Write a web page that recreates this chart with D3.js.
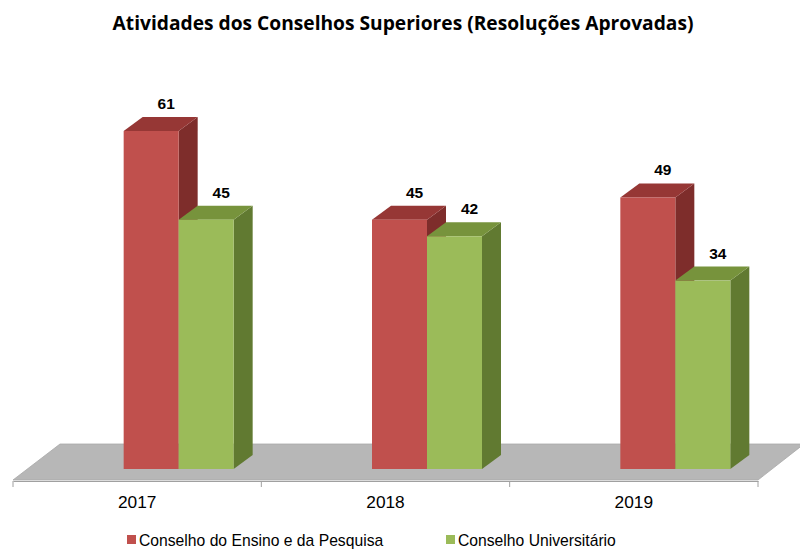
<!DOCTYPE html>
<html>
<head>
<meta charset="utf-8">
<script src="https://cdn.jsdelivr.net/npm/d3@7"></script>
<style>
  html, body { margin: 0; padding: 0; background: #fff; }
  svg { display: block; }
</style>
</head>
<body>
<svg id="chart" width="800" height="549"></svg>
<script>
// Resoluções aprovadas por ano e por conselho
const years = ["2017", "2018", "2019"];
const seriesNames = ["Conselho do Ensino e da Pesquisa", "Conselho Universitário"];
const cepeValues = [61, 45, 49];
const consuniValues = [45, 42, 34];

const svg = d3.select("#chart");

// 3D look: offset of the back face of each bar
const depthX = 19, depthY = -14;
const baseY = 469;

const x = d3.scaleBand().domain(years).range([13, 758]).paddingInner(0).paddingOuter(0);
const y = d3.scaleLinear().domain([0, 70]).range([baseY, baseY - 70 * 5.541]);

const barW = 55;
const pairShift = 41.5; // projection shift of the bar pair inside the band

const colors = [
  { front: "#C0504D", top: "#963735", side: "#7E2D2B" },
  { front: "#9BBB59", top: "#77933C", side: "#617A31" }
];

// title
svg.append("text")
  .attr("x", 403).attr("y", 30)
  .attr("text-anchor", "middle")
  .attr("font-family", "'Open Sans', sans-serif")
  .attr("font-weight", "bold")
  .attr("font-size", 19.2)
  .attr("fill", "#000")
  .text("Atividades dos Conselhos Superiores (Resoluções Aprovadas)");

// floor
const x0 = x.range()[0], x1 = x.range()[1];
const floorFrontY = 480, floorBackY = 444, floorDX = 46;
svg.append("path")
  .attr("d", `M${x0},${floorFrontY} L${x1},${floorFrontY} L${x1 + floorDX},${floorBackY} L${x0 + floorDX + 1},${floorBackY} Z`)
  .attr("fill", "#B7B7B7")
  .attr("stroke", "#A8A8A8")
  .attr("stroke-width", 0.8);

// category axis
const axisY = 481;
const axis = d3.axisBottom(x).tickSize(0).tickFormat("");
svg.append("g").attr("transform", `translate(0,${axisY})`).call(axis)
  .call(g => g.select(".domain").attr("stroke", "#A0A0A0"));
const tickXs = [x0, ...years.map(d => x(d) + x.bandwidth())];
svg.append("g").selectAll("line").data(tickXs).join("line")
  .attr("x1", d => d).attr("x2", d => d)
  .attr("y1", axisY).attr("y2", axisY + 6)
  .attr("stroke", "#A0A0A0");
svg.append("g").selectAll("text").data(years).join("text")
  .attr("x", d => x(d) + x.bandwidth() / 2)
  .attr("y", 508)
  .attr("text-anchor", "middle")
  .attr("font-family", "'Liberation Sans', Arial, sans-serif")
  .attr("font-size", 17.3)
  .attr("fill", "#000")
  .text(d => d);

// bars
const bars = [];
years.forEach((yr, i) => {
  [cepeValues[i], consuniValues[i]].forEach((v, s) => {
    const left = x(yr) + x.bandwidth() / 2 + pairShift - barW + s * barW;
    bars.push({ yr, s, v, left });
  });
});

const g = svg.append("g");
bars.forEach(b => {
  const c = colors[b.s];
  const top = y(b.v), bot = y(0), l = b.left, r = b.left + barW;
  // side face
  g.append("path")
    .attr("d", `M${r},${top} L${r + depthX},${top + depthY} L${r + depthX},${bot + depthY} L${r},${bot} Z`)
    .attr("fill", c.side);
  // top face
  g.append("path")
    .attr("d", `M${l},${top} L${l + depthX},${top + depthY} L${r + depthX},${top + depthY} L${r},${top} Z`)
    .attr("fill", c.top);
  // front face
  g.append("rect")
    .attr("x", l).attr("y", top)
    .attr("width", barW).attr("height", bot - top)
    .attr("fill", c.front);
  // value label
  g.append("text")
    .attr("x", l + barW / 2 + 15)
    .attr("y", top + depthY - 8)
    .attr("text-anchor", "middle")
    .attr("font-family", "'Liberation Sans', Arial, sans-serif")
    .attr("font-weight", "bold")
    .attr("font-size", 15.5)
    .attr("fill", "#000")
    .text(b.v);
});

// legend
const legendItems = [
  { name: seriesNames[0], color: colors[0].front, x: 127 },
  { name: seriesNames[1], color: colors[1].front, x: 446 }
];
const lg = svg.append("g");
legendItems.forEach(it => {
  lg.append("rect").attr("x", it.x).attr("y", 535).attr("width", 9).attr("height", 9).attr("fill", it.color);
  lg.append("text")
    .attr("x", it.x + 12).attr("y", 546)
    .attr("font-family", "'Liberation Sans', Arial, sans-serif")
    .attr("font-size", 15.7)
    .attr("fill", "#000")
    .text(it.name);
});
</script>
</body>
</html>
